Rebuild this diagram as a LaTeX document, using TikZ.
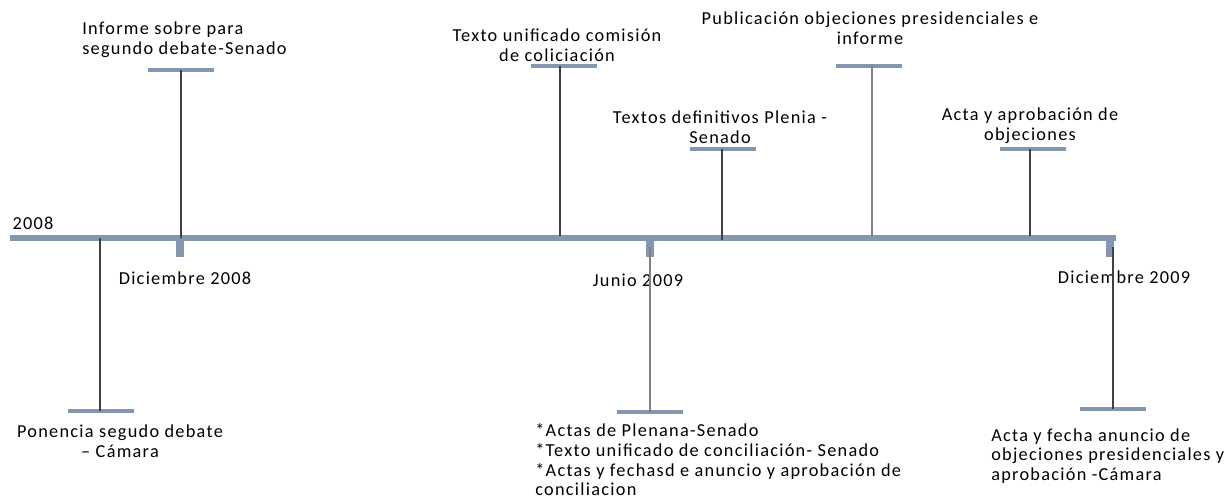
\documentclass[tikz,border=0pt]{standalone}
\usepackage{fontspec}
\setmainfont{Carlito}[LetterSpace=7]
\usetikzlibrary{positioning}

\definecolor{ejeazul}{RGB}{132,151,176}
\definecolor{tallogris}{RGB}{64,64,64}
\definecolor{talloclaro}{RGB}{128,128,128}

\begin{document}
\begin{tikzpicture}[x=0.025cm,y=-0.025cm,
  txt/.style={font=\fontsize{13}{14}\selectfont, inner sep=0pt},
  barra/.style={fill=ejeazul, minimum width=47pt, minimum height=2.8pt, inner sep=0pt},
  marca/.style={fill=ejeazul, minimum width=5.7pt, minimum height=13pt, inner sep=0pt, anchor=north},
  tallo/.style={draw=tallogris, line width=1.2pt},
  eje/.style={draw=ejeazul, line width=3.6pt}]
  \useasboundingbox (0,0) rectangle (1232,501);

  % eje
  \coordinate (ini) at (10,238);
  \coordinate (fin) at (1116,238);
  \draw[eje] (ini) -- (fin);
  \node[txt] (a2008) at (33,223) {2008};

  % marcas de fecha
  \node[marca] (m1) at (180,238) {};
  \node[marca] (m2) at (650,238) {};
  \node[marca] (m3) at (1110,238) {};
  \node[txt] (f1) at (185,278) {Diciembre 2008};
  \node[txt] (f2) at (638,280) {Junio 2009};
  \node[txt] (f3) at (1124,277) {Diciembre 2009};

  % eventos arriba
  \coordinate (e1) at (181,238);
  \node[barra] (b1) at (181,70) {};
  \node[txt, align=left, anchor=west] (t1) at (82,40) {Informe sobre para\\segundo debate-Senado};
  \draw[tallo] (b1.center) -- (e1);

  \coordinate (e2) at (560,236);
  \node[barra] (b2) at (564,66) {};
  \node[txt, align=center] (t2) at (557,45) {Texto unificado comisión\\de coliciación};
  \draw[tallo] (b2.center -| e2) -- (e2);

  \coordinate (e3) at (722,240);
  \node[barra] (b3) at (723,149) {};
  \node[txt, align=center] (t3) at (720,127) {Textos definitivos Plenia -\\Senado};
  \draw[tallo] (b3.center -| e3) -- (e3);

  \coordinate (e4) at (872,236);
  \node[barra] (b4) at (869,66) {};
  \node[txt, align=center] (t4) at (870,28) {Publicación objeciones presidenciales e\\informe};
  \draw[tallo, draw=talloclaro, line width=1.8pt] (b4.center -| e4) -- (e4);

  \coordinate (e5) at (1030,236);
  \node[barra] (b5) at (1033,149) {};
  \node[txt, align=center] (t5) at (1030,126) {Acta y aprobación de\\objeciones};
  \draw[tallo] (b5.center -| e5) -- (e5);

  % eventos abajo
  \coordinate (d1) at (100,238);
  \node[barra] (c1) at (101,411) {};
  \node[txt, align=center] (s1) at (120,441) {Ponencia segudo debate\\– Cámara};
  \draw[tallo] (d1) -- (c1.center -| d1);

  \node[barra] (c2) at (650,412) {};
  \node[txt, align=left, anchor=west] (s2) at (535,460)
    {*Actas de Plenana-Senado\\*Texto unificado de conciliación- Senado\\*Actas y fechasd e anuncio y aprobación de\\conciliacion};
  \draw[tallo, draw=talloclaro, line width=1.5pt] (m2.center) -- (c2.center);

  \node[barra] (c3) at (1113,409) {};
  \node[txt, align=left, anchor=west] (s3) at (991,456)
    {Acta y fecha anuncio de\\objeciones presidenciales y\\aprobación -Cámara};
  \draw[tallo] (m3.center -| c3) -- (c3.center);

\end{tikzpicture}
\end{document}
